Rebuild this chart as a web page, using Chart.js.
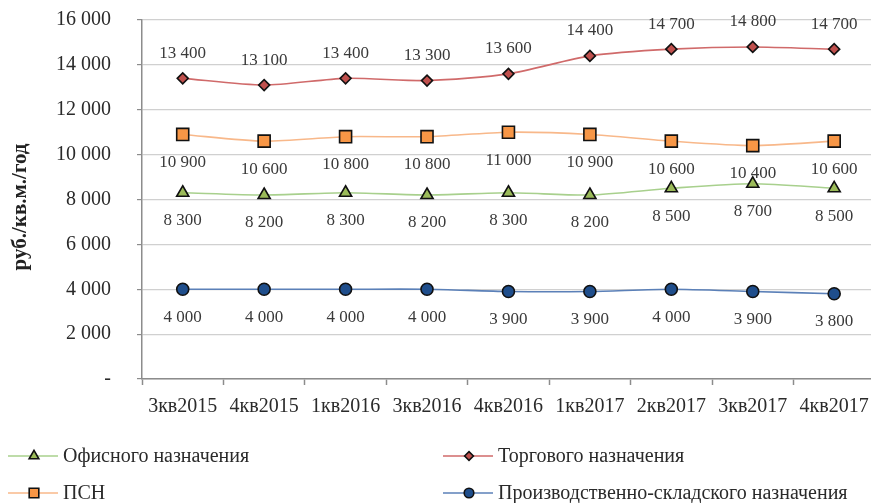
<!DOCTYPE html>
<html><head><meta charset="utf-8">
<script src="https://cdn.jsdelivr.net/npm/chart.js@4.4.1/dist/chart.umd.min.js"></script>
<style>html,body{margin:0;padding:0;background:#fff;overflow:hidden;width:871px;height:503px}canvas{display:block}</style>
</head><body>
<canvas id="c" width="885" height="503"></canvas>
<script>
const categories = ['3кв2015','4кв2015','1кв2016','3кв2016','4кв2016','1кв2017','2кв2017','3кв2017','4кв2017'];
const office = [8300, 8200, 8300, 8200, 8300, 8200, 8500, 8700, 8500];
const retail = [13400, 13100, 13400, 13300, 13600, 14400, 14700, 14800, 14700];
const psn = [10900, 10600, 10800, 10800, 11000, 10900, 10600, 10400, 10600];
const industrial = [4000, 4000, 4000, 4000, 3900, 3900, 4000, 3900, 3800];
const seriesNames = ['Офисного назначения','Торгового назначения','ПСН','Производственно-складского назначения'];
const yTitle = 'руб./кв.м./год';

const SERIF = '"Liberation Serif", "Times New Roman", serif';
const fmt = v => v === 0 ? '-' : String(v).replace(/\B(?=(\d{3})+(?!\d))/g, ' ');

const datasets = [
  {label: seriesNames[0], data: office, borderColor: '#a8d08d', backgroundColor: '#9bbb59', pointStyle: 'triangle', pointRadius: 7, labelPos: 'below'},
  {label: seriesNames[1], data: retail, borderColor: '#d06a6a', backgroundColor: '#c0504d', pointStyle: 'rectRot', pointRadius: 5.5, labelPos: 'above'},
  {label: seriesNames[2], data: psn, borderColor: '#f8b88a', backgroundColor: '#f79646', pointStyle: 'rect', pointRadius: 8.5, labelPos: 'below'},
  {label: seriesNames[3], data: industrial, borderColor: '#5b80b8', backgroundColor: '#1f4e8c', pointStyle: 'circle', pointRadius: 6, labelPos: 'below'}
].map(d => Object.assign(d, {
  borderWidth: 1.6, pointBorderColor: '#111', pointBackgroundColor: d.backgroundColor,
  pointBorderWidth: 1.6, pointHoverRadius: d.pointRadius, tension: 0.25, fill: false
}));

const labelPlugin = {
  id: 'valueLabels',
  afterDatasetsDraw(chart) {
    const ctx = chart.ctx;
    ctx.save();
    ctx.font = '17px ' + SERIF;
    ctx.fillStyle = '#3a3a3a';
    ctx.textAlign = 'center';
    ctx.textBaseline = 'middle';
    chart.data.datasets.forEach((ds, i) => {
      const meta = chart.getDatasetMeta(i);
      meta.data.forEach((pt, j) => {
        const dy = ds.labelPos === 'above' ? -25 : 28;
        ctx.fillText(fmt(ds.data[j]), pt.x, pt.y + dy);
      });
    });
    ctx.restore();
  }
};

const legendPlugin = {
  id: 'bottomLegend',
  afterDraw(chart) {
    const ctx = chart.ctx;
    const pos = [[8, 456], [443, 456], [8, 493], [443, 493]];
    ctx.save();
    chart.data.datasets.forEach((ds, i) => {
      const [x, y] = pos[i];
      ctx.strokeStyle = ds.borderColor;
      ctx.lineWidth = 1.6;
      ctx.beginPath(); ctx.moveTo(x, y); ctx.lineTo(x + 50, y); ctx.stroke();
      ctx.fillStyle = ds.pointBackgroundColor;
      ctx.strokeStyle = '#111';
      ctx.lineWidth = 1.6;
      Chart.helpers.drawPoint(ctx, {pointStyle: ds.pointStyle, radius: ds.pointRadius * 0.8, rotation: 0, borderWidth: 1.6}, x + 26, y);
      ctx.fillStyle = '#2a2a2a';
      ctx.font = '20px ' + SERIF;
      ctx.textAlign = 'left';
      ctx.textBaseline = 'middle';
      ctx.fillText(ds.label, x + 55, y + 1);
    });
    // y axis title
    ctx.translate(21, 207);
    ctx.rotate(-Math.PI / 2);
    ctx.font = 'bold 21px ' + SERIF;
    ctx.fillStyle = '#222';
    ctx.textAlign = 'center';
    ctx.textBaseline = 'middle';
    ctx.fillText(yTitle, 0, 0);
    ctx.restore();
  }
};

new Chart(document.getElementById('c'), {
  type: 'line',
  data: {labels: categories, datasets},
  plugins: [labelPlugin, legendPlugin],
  options: {
    responsive: false, animation: false,
    layout: {padding: {left: 0, top: 20, right: 2, bottom: 76}},
    plugins: {legend: {display: false}, tooltip: {enabled: false}},
    scales: {
      x: {
        offset: true,
        grid: {offset: true, drawOnChartArea: false, drawTicks: true, tickLength: 6, color: '#8c8c8c', tickWidth: 1.5},
        border: {display: true, color: '#8c8c8c', width: 1.5},
        ticks: {color: '#2a2a2a', font: {family: SERIF, size: 20}, padding: 10, maxRotation: 0, autoSkip: false},
        afterFit(s) { s.height = 48; }
      },
      y: {
        min: 0, max: 16000,
        ticks: {stepSize: 2000, color: '#2a2a2a', font: {family: SERIF, size: 20}, padding: 26, callback: v => fmt(v)},
        grid: {color: '#d0d0d0', lineWidth: 1.2, borderDash: [3, 2], tickLength: 5, tickColor: '#8c8c8c', tickBorderDash: [], tickWidth: 1.2},
        border: {display: true, color: '#8c8c8c', width: 1.5},
        afterFit(s) { s.width = 142; s.paddingTop = 0; s.paddingBottom = 0; }
      }
    }
  }
});
</script>
</body></html>
